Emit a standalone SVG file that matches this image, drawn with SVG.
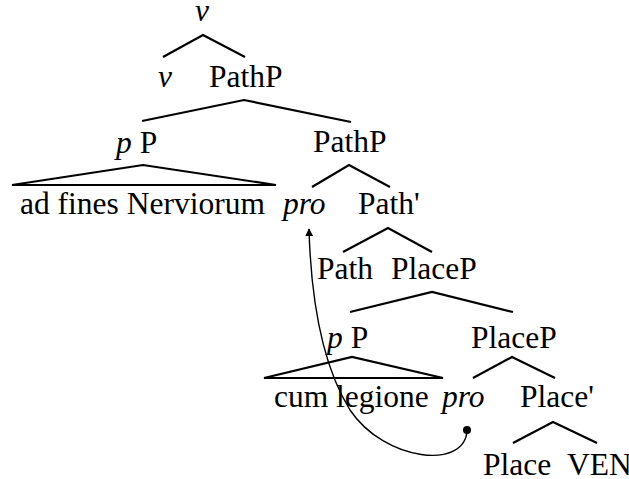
<svg xmlns="http://www.w3.org/2000/svg" width="629" height="479" viewBox="0 0 629 479">
  <style>
    .lbl text { font-size: 31.5px; fill: #000; }
    .it { font-style: italic; }
    .br { fill: none; stroke: #000; stroke-width: 2.2; stroke-linejoin: miter; }
    .mv { fill: none; stroke: #000; stroke-width: 1.4; }
  </style>
  <defs>
    <marker id="head" viewBox="0 0 10 10" refX="9" refY="5" markerWidth="8" markerHeight="8" markerUnits="userSpaceOnUse" orient="auto">
      <path d="M0,0 L10,5 L0,10 z" fill="#000"/>
    </marker>
  </defs>

  <!-- tree labels -->
  <g class="lbl" font-family="Liberation Serif, Times New Roman, serif">
    <g id="n-v-top"><text class="it" x="195" y="21">v</text></g>
    <g id="n-v"><text class="it" x="158" y="87">v</text></g>
    <g id="n-pathp1"><text x="209" y="87">PathP</text></g>
    <g id="n-pP1"><text x="116" y="153"><tspan class="it">p</tspan> P</text></g>
    <g id="n-pathp2"><text x="313" y="152">PathP</text></g>
    <g id="n-adfines"><text x="20" y="214">ad fines Nerviorum</text></g>
    <g id="n-pro1"><text class="it" x="283" y="214">pro</text></g>
    <g id="n-pathbar"><text x="358" y="214">Path'</text></g>
    <g id="n-path"><text x="317" y="279">Path</text></g>
    <g id="n-placep1"><text x="391" y="279">PlaceP</text></g>
    <g id="n-pP2"><text x="327" y="348"><tspan class="it">p</tspan> P</text></g>
    <g id="n-placep2"><text x="471" y="348">PlaceP</text></g>
    <g id="n-cum"><text x="274" y="407">cum legione</text></g>
    <g id="n-pro2"><text class="it" x="442" y="407">pro</text></g>
    <g id="n-placebar"><text x="520" y="407">Place'</text></g>
    <g id="n-place"><text x="483" y="475">Place</text></g>
    <g id="n-ven"><text x="567" y="475">VEN</text></g>
  </g>

  <!-- branches and movement arrow -->
  <g id="connectors">
    <polyline class="br" points="163,57 203,35 245,57"/>
    <polyline class="br" points="142,121 244,100 351,122"/>
    <polygon class="br" points="12,185 143,165 276,185"/>
    <polyline class="br" points="312,187 349,165 390,187"/>
    <polyline class="br" points="343,252 388,228 432,252"/>
    <polyline class="br" points="350,312 432,292 513,312"/>
    <polygon class="br" points="264,378 352,357 443,378"/>
    <polyline class="br" points="473,378 512,357 555,378"/>
    <polyline class="br" points="513,443 553,422 597,443"/>
    <path class="mv" d="M467,430 C466,470 385,462 350,410 C322,365 311,300 309,229" marker-end="url(#head)"/>
    <circle cx="467" cy="430" r="4" fill="#000"/>
  </g>
</svg>
